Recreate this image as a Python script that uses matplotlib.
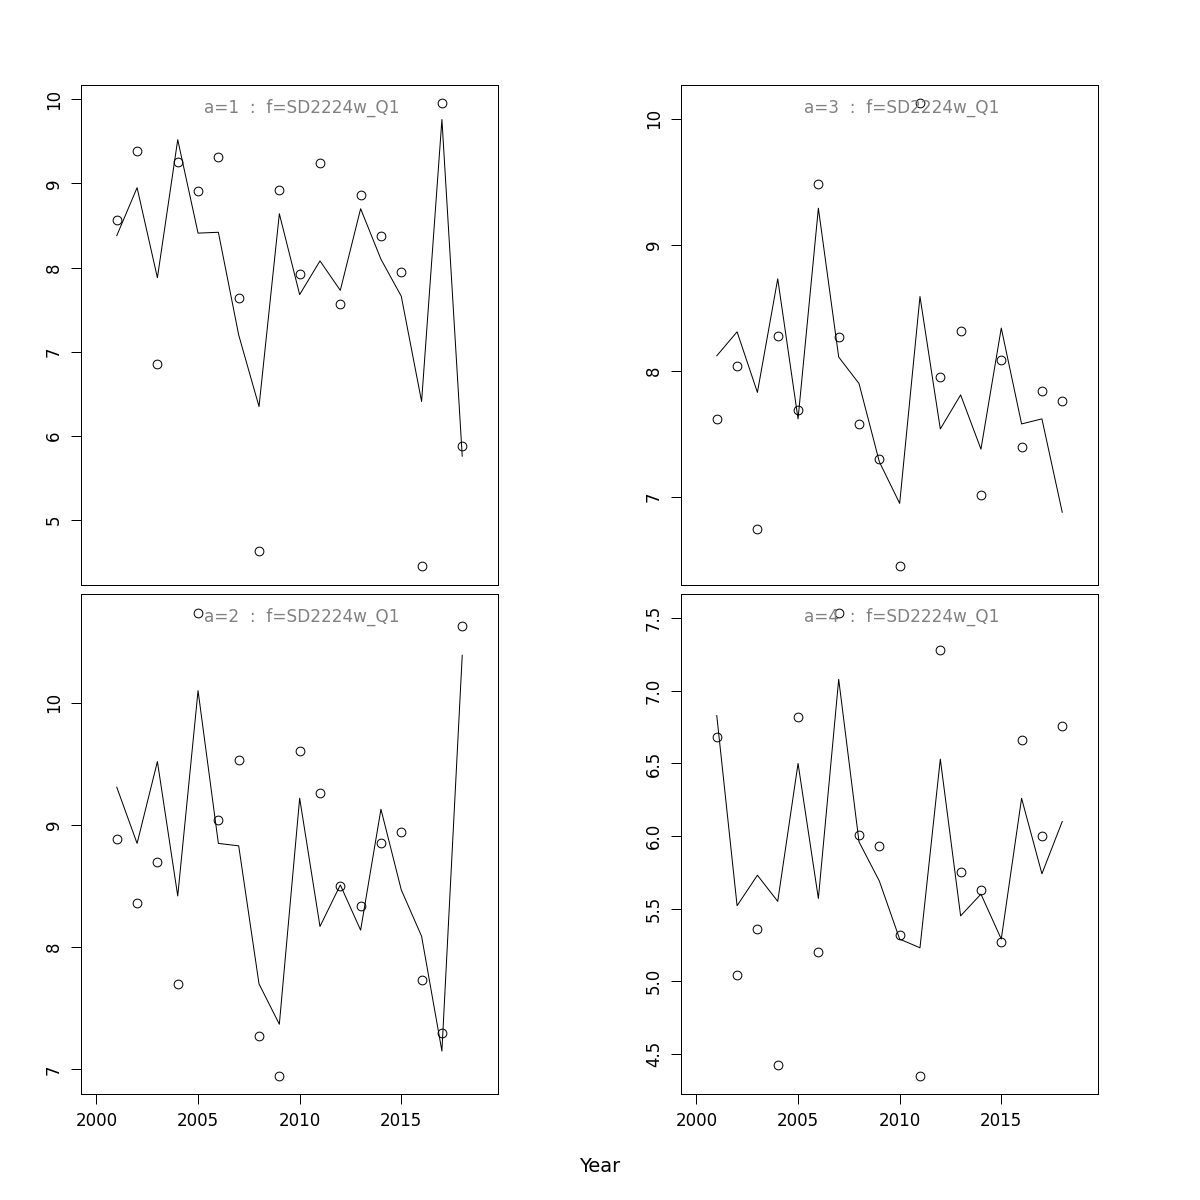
from matplotlib import pyplot as plt
from matplotlib.ticker import MultipleLocator, FormatStrFormatter
import numpy as np

years = np.arange(2001, 2019)

# observed (circles) and fitted (line) per age
obs_a1 = [8.56, 9.39, 6.86, 9.25, 8.91, 9.31, 7.64, 4.63, 8.92,
          7.93, 9.24, 7.57, 8.86, 8.37, 7.95, 4.45, 9.95, 5.88]
fit_a1 = [8.38, 8.95, 7.88, 9.52, 8.41, 8.42, 7.20, 6.35, 8.64,
          7.68, 8.08, 7.73, 8.70, 8.10, 7.66, 6.41, 9.76, 5.76]

obs_a2 = [8.89, 8.36, 8.70, 7.70, 10.74, 9.04, 9.53, 7.27, 6.95,
          9.61, 9.26, 8.50, 8.34, 8.85, 8.94, 7.73, 7.30, 10.63]
fit_a2 = [9.31, 8.85, 9.52, 8.42, 10.10, 8.85, 8.83, 7.70, 7.37,
          9.22, 8.17, 8.51, 8.14, 9.13, 8.47, 8.09, 7.15, 10.39]

obs_a3 = [7.62, 8.04, 6.75, 8.28, 7.69, 9.48, 8.27, 7.58, 7.30,
          6.45, 10.12, 7.95, 8.32, 7.02, 8.09, 7.40, 7.84, 7.76]
fit_a3 = [8.12, 8.31, 7.83, 8.73, 7.62, 9.29, 8.11, 7.90, 7.28,
          6.95, 8.59, 7.54, 7.81, 7.38, 8.34, 7.58, 7.62, 6.88]

obs_a4 = [6.68, 5.04, 5.36, 4.42, 6.82, 5.20, 7.54, 6.01, 5.93,
          5.32, 4.35, 7.28, 5.75, 5.63, 5.27, 6.66, 6.00, 6.76]
fit_a4 = [6.83, 5.52, 5.73, 5.55, 6.50, 5.57, 7.08, 5.96, 5.69,
          5.29, 5.23, 6.53, 5.45, 5.60, 5.29, 6.26, 5.74, 6.10]

fleet = "SD2224w_Q1"

lw = 0.72
fs = 12

fig = plt.figure(figsize=(12, 12), dpi=100)

# (age, obs, fit, left, bottom, tick step, bottom row?)
panels = [
    (1, obs_a1, fit_a1, 0.0675, 0.5125, 1.0, False),
    (3, obs_a3, fit_a3, 0.5675, 0.5125, 1.0, False),
    (2, obs_a2, fit_a2, 0.0675, 0.0883, 1.0, True),
    (4, obs_a4, fit_a4, 0.5675, 0.0883, 0.5, True),
]

for age, obs, fit, left, bottom, step, show_x in panels:
    ax = fig.add_axes([left, bottom, 0.3475, 0.4167])
    ax.plot(years, fit, color="black", lw=lw)
    ax.plot(years, obs, "o", mfc="none", mec="black", mew=lw, ms=6.3)

    lo = min(min(obs), min(fit))
    hi = max(max(obs), max(fit))
    pad = (hi - lo) * 0.04
    ax.set_ylim(lo - pad, hi + pad)
    ax.set_xlim(1999.24, 2019.76)

    ax.yaxis.set_major_locator(MultipleLocator(step))
    if step < 1:
        ax.yaxis.set_major_formatter(FormatStrFormatter("%.1f"))
    ax.xaxis.set_major_locator(MultipleLocator(5))

    for s in ax.spines.values():
        s.set_linewidth(lw)
    ax.tick_params(axis="both", direction="out", length=7, width=lw,
                   labelsize=fs, pad=6)
    for lab in ax.get_yticklabels():
        lab.set_rotation(90)
        lab.set_va("center")
    if not show_x:
        ax.tick_params(axis="x", bottom=False, labelbottom=False)

    ax.text(2010.1, 0.955, "a=%d  :  f=%s" % (age, fleet),
            transform=ax.get_xaxis_transform(), ha="center", va="center",
            color="#808080", fontsize=12.2)

fig.text(0.5, 1 - 1167 / 1200, "Year", ha="center", va="center", fontsize=14)

fig.savefig("out.png", dpi=100)
